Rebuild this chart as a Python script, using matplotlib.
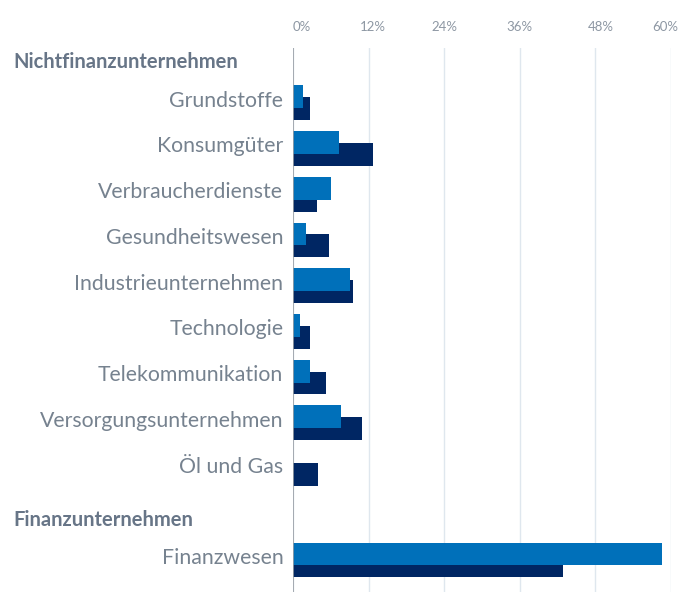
import matplotlib
matplotlib.use("Agg")
import matplotlib.pyplot as plt
from matplotlib.transforms import blended_transform_factory, ScaledTranslation

categories = ["Grundstoffe", "Konsumgüter", "Verbraucherdienste", "Gesundheitswesen",
              "Industrieunternehmen", "Technologie", "Telekommunikation",
              "Versorgungsunternehmen", "Öl und Gas", "Finanzwesen"]
series_a = [1.6, 7.3, 6.0, 2.0, 9.0, 1.1, 2.7, 7.6, 0.0, 58.6]   # light blue
series_b = [2.7, 12.7, 3.8, 5.7, 9.5, 2.7, 5.2, 10.9, 3.9, 42.8]  # navy
groups = ["Nichtfinanzunternehmen", "Finanzunternehmen"]
xticks = [0, 12, 24, 36, 48, 60]
xticklabels = ["0%", "12%", "24%", "36%", "48%", "60%"]

rows = [0, 1, 2, 3, 4, 5, 6, 7, 8, 10]
group_rows = [-1, 9]

plt.rcParams['font.family'] = ['Lato', 'DejaVu Sans']

fig = plt.figure(figsize=(6.8, 5.92), dpi=100)
ax = fig.add_axes([293/680, 0, 378/680, 1 - 48/592])

LIGHT = "#0070ba"
NAVY = "#002663"
TXT = "#76828f"

h = 0.5
off = 0.13
ax.barh([r + off for r in rows], series_b, height=h, color=NAVY, zorder=2)
ax.barh([r - off for r in rows], series_a, height=h, color=LIGHT, zorder=3)

ax.set_xlim(0, 60)
ax.set_ylim(10.70, -1.197)
ax.set_yticks(rows)
ax.set_yticklabels(categories, fontsize=15.3, color=TXT)
ax.tick_params(axis='y', length=0, pad=7)
for lab in ax.get_yticklabels():
    lab.set_transform(lab.get_transform() + ScaledTranslation(0, 4/100, fig.dpi_scale_trans))
ax.xaxis.tick_top()
ax.set_xticks(xticks)
ax.set_xticklabels(xticklabels, fontsize=9.5, color="#8d97a3")
ax.tick_params(axis='x', length=0, pad=11)
for lab, dx in zip(ax.get_xticklabels(), [9, 4.5, 0, 0, 5, -5.5]):
    lab.set_transform(lab.get_transform() + ScaledTranslation(dx/100, 0, fig.dpi_scale_trans))

for s in ax.spines.values():
    s.set_visible(False)
ax.grid(axis='x', color="#dfe7ee", linewidth=1, zorder=0)
ax.axvline(0, color="#9aa0a6", linewidth=1.2, zorder=4)

trans = blended_transform_factory(fig.transFigure, ax.transData)
for g, r, dy in zip(groups, group_rows, [0.11, 0.13]):
    fig.text(13/680, r + dy, g, transform=trans, fontsize=14.5, fontweight='bold',
             color="#677587", va='center', ha='left')

fig.savefig("out.png", dpi=100)
